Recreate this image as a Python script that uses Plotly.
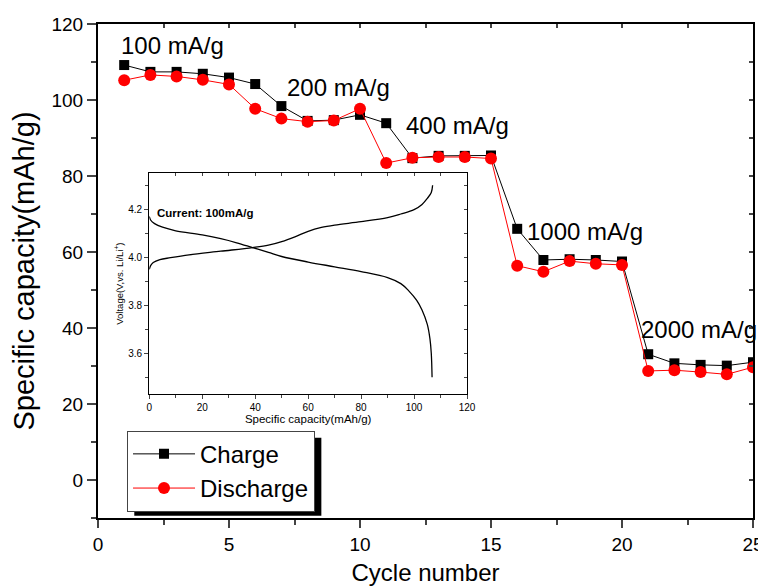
import plotly.graph_objects as go

# ---------------- data ----------------
cycles = list(range(1, 26))
charge = [109.2, 107.4, 107.4, 106.9, 105.9, 104.2, 98.4, 94.5, 94.7, 96.1,
          93.9, 84.7, 85.3, 85.3, 85.4, 66.1, 57.9, 58.1, 57.9, 57.5,
          33.1, 30.7, 30.3, 30.1, 31.0]
discharge = [105.2, 106.6, 106.2, 105.3, 104.1, 97.7, 95.1, 94.3, 94.6, 97.7,
             83.4, 84.8, 85.0, 85.0, 84.6, 56.4, 54.8, 57.6, 56.9, 56.6,
             28.7, 28.9, 28.4, 27.8, 29.7]

rate_labels = ["100 mA/g", "200 mA/g", "400 mA/g", "1000 mA/g", "2000 mA/g"]
rate_x = [0.82, 7.14, 11.68, 16.30, 20.65]
rate_y = [114.4, 103.4, 93.4, 65.5, 39.5]

# inset voltage profiles (capacity mAh/g, voltage V)
chg_cap = [0, 0.5, 1.5, 4, 8, 15, 27, 39, 45, 50, 55, 60, 65, 70, 80, 90, 95,
           100, 103, 105, 106.5, 107]
chg_v = [3.95, 3.965, 3.978, 3.99, 3.998, 4.01, 4.025, 4.04, 4.05, 4.065, 4.085,
         4.108, 4.124, 4.134, 4.148, 4.165, 4.18, 4.198, 4.22, 4.245, 4.27, 4.30]
dis_cap = [0, 0.5, 2, 5, 10, 20, 27, 33, 39, 45, 50, 60, 70, 80, 90, 95, 98,
           101, 103, 105, 106, 106.5, 106.8]
dis_v = [4.17, 4.155, 4.14, 4.125, 4.11, 4.093, 4.077, 4.06, 4.04, 4.02, 4.003,
         3.98, 3.96, 3.94, 3.915, 3.89, 3.86, 3.82, 3.78, 3.72, 3.66, 3.6, 3.5]

main_xticks = [0, 2.5, 5, 7.5, 10, 12.5, 15, 17.5, 20, 22.5, 25]
main_yticks = [0, 20, 40, 60, 80, 100, 120]
inset_xticks = [0, 20, 40, 60, 80, 100, 120]
inset_yticks = [3.6, 3.8, 4.0, 4.2]

FONT = "Arial, Liberation Sans, sans-serif"

fig = go.Figure()

fig.add_trace(go.Scatter(
    x=cycles, y=charge, name="Charge", mode="lines+markers",
    line=dict(color="black", width=1),
    marker=dict(symbol="square", size=10, color="black"),
    xaxis="x", yaxis="y"))
fig.add_trace(go.Scatter(
    x=cycles, y=discharge, name="Discharge", mode="lines+markers",
    line=dict(color="red", width=1),
    marker=dict(symbol="circle", size=12, color="red"),
    xaxis="x", yaxis="y"))

# mirror-tick helper traces (invisible)
fig.add_trace(go.Scatter(x=[None], y=[None], xaxis="x2", yaxis="y2",
                         showlegend=False, hoverinfo="skip"))
# inset curves
fig.add_trace(go.Scatter(x=chg_cap, y=chg_v, mode="lines", showlegend=False,
                         line=dict(color="black", width=1.3, shape="spline"),
                         xaxis="x3", yaxis="y3"))
fig.add_trace(go.Scatter(x=dis_cap, y=dis_v, mode="lines", showlegend=False,
                         line=dict(color="black", width=1.3, shape="spline"),
                         xaxis="x3", yaxis="y3"))
fig.add_trace(go.Scatter(x=[None], y=[None], xaxis="x4", yaxis="y4",
                         showlegend=False, hoverinfo="skip"))

axis_common = dict(showgrid=False, zeroline=False, linecolor="black",
                   automargin=False)

# the page body adds an 8px offset; figure is sized/margined to compensate
fig.update_layout(
    width=758, height=579,
    margin=dict(l=90, r=13, t=16, b=69),
    paper_bgcolor="white", plot_bgcolor="white",
    font=dict(family=FONT, color="black"),
    showlegend=True,
    legend=dict(x=0.0443, y=0.1766, xanchor="left", yanchor="top",
                bgcolor="white", bordercolor="#444", borderwidth=1,
                font=dict(size=24, family=FONT), itemwidth=62,
                tracegroupgap=0),
    xaxis=dict(range=[0, 25], domain=[0, 1], anchor="y",
               tickvals=main_xticks[::2], ticks="outside", ticklen=8,
               tickwidth=1.5, linewidth=2,
               minor=dict(tickvals=main_xticks[1::2], ticks="outside", ticklen=5,
                          tickwidth=1.5),
               tickfont=dict(size=19),
               title=dict(text="Cycle number", font=dict(size=24), standoff=10),
               **axis_common),
    yaxis=dict(range=[-10, 120], domain=[0, 1], anchor="x",
               tickvals=main_yticks, ticks="outside", ticklen=9,
               tickwidth=1.5, linewidth=2,
               minor=dict(dtick=10, ticks="outside", ticklen=5, tickwidth=1.5),
               tickfont=dict(size=19),
               title=dict(text="Specific capacity(mAh/g)", font=dict(size=29),
                          standoff=12),
               **axis_common),
    xaxis2=dict(range=[0, 25], overlaying="x", side="top", anchor="y",
                tickvals=main_xticks, ticks="inside", ticklen=4, tickwidth=1.5,
                showticklabels=False, showline=True, linewidth=2,
                **axis_common),
    yaxis2=dict(range=[-10, 120], overlaying="y", side="right", anchor="x",
                dtick=10, tick0=0, ticks="inside", ticklen=4, tickwidth=1.5,
                showticklabels=False, showline=True, linewidth=2,
                **axis_common),
    xaxis3=dict(range=[0, 120], domain=[0.0783, 0.5634], anchor="y3",
                tickvals=inset_xticks, ticks="outside", ticklen=4, tickwidth=1,
                minor=dict(dtick=10, ticks="outside", ticklen=3, tickwidth=1),
                showline=True, linewidth=1.3, tickfont=dict(size=10),
                title=dict(text="Specific capacity(mAh/g)", font=dict(size=11.5),
                           standoff=2),
                **axis_common),
    yaxis3=dict(range=[3.43, 4.35], domain=[0.2509, 0.698], anchor="x3",
                tickvals=inset_yticks, tickformat=".1f", ticks="outside",
                ticklen=4, tickwidth=1,
                minor=dict(dtick=0.1, tick0=3.5, ticks="outside", ticklen=3,
                           tickwidth=1),
                showline=True, linewidth=1.3, tickfont=dict(size=10),
                title=dict(text="Voltage(V,vs. Li/Li<sup>+</sup>)",
                           font=dict(size=9.5), standoff=2),
                **axis_common),
    xaxis4=dict(range=[0, 120], overlaying="x3", side="top", anchor="y3",
                dtick=10, tick0=0, ticks="inside", ticklen=3, tickwidth=1,
                showticklabels=False, showline=True, linewidth=1.3,
                **axis_common),
    yaxis4=dict(range=[3.43, 4.35], overlaying="y3", side="right", anchor="x3",
                dtick=0.1, tick0=3.5, ticks="inside", ticklen=3, tickwidth=1,
                showticklabels=False, showline=True, linewidth=1.3,
                **axis_common),
)

# legend shadow
fig.add_shape(type="rect", xref="paper", yref="paper",
              x0=0.0554, x1=0.341, y0=0.0047, y1=0.1625,
              fillcolor="black", line=dict(width=0), layer="above")

# rate annotations
for t, x, y in zip(rate_labels, rate_x, rate_y):
    fig.add_annotation(x=x, y=y, xref="x", yref="y", text=t, showarrow=False,
                       xanchor="left", yanchor="middle",
                       font=dict(size=24, family=FONT, color="black"))

fig.add_annotation(x=2, y=4.183, xref="x3", yref="y3", text="<b>Current: 100mA/g</b>",
                   showarrow=False, xanchor="left", yanchor="middle",
                   font=dict(size=11.5, family=FONT, color="black"))

fig.write_html("out.html")
